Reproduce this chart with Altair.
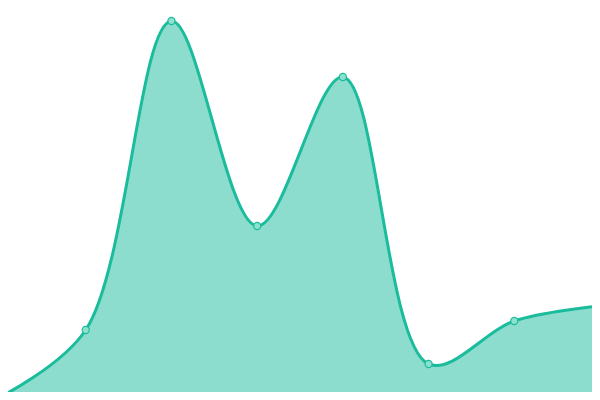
import altair as alt
import pandas as pd

idx = [0, 1, 2, 3, 4, 5, 6, 7]
values = [3, 70, 379, 174, 323, 36, 79, 94]

df = pd.DataFrame({"i": idx, "v": values})

x = alt.X("i:Q", scale=alt.Scale(domain=[0.0933, 6.9067], nice=False, zero=False), axis=None)
y = alt.Y("v:Q", scale=alt.Scale(domain=[8, 392], nice=False, zero=False), axis=None)

base = alt.Chart(df).encode(x=x, y=y)

area = base.mark_area(interpolate="catmull-rom", color="#1abc9c", opacity=0.5, clip=True).encode(y2=alt.datum(0))
line = base.mark_line(interpolate="catmull-rom", color="#1abc9c", strokeWidth=3, clip=True)
pts = base.mark_point(filled=True, fill="#8ee0cf", stroke="#1abc9c", strokeWidth=1.2, size=50, opacity=1, clip=True)

chart = (area + line + pts).properties(width=584, height=384, padding=0).configure_view(stroke=None)
chart = chart.properties(autosize=alt.AutoSizeParams(type="none"))

chart.save("out.html", embed_options={"renderer": "svg", "actions": False})
